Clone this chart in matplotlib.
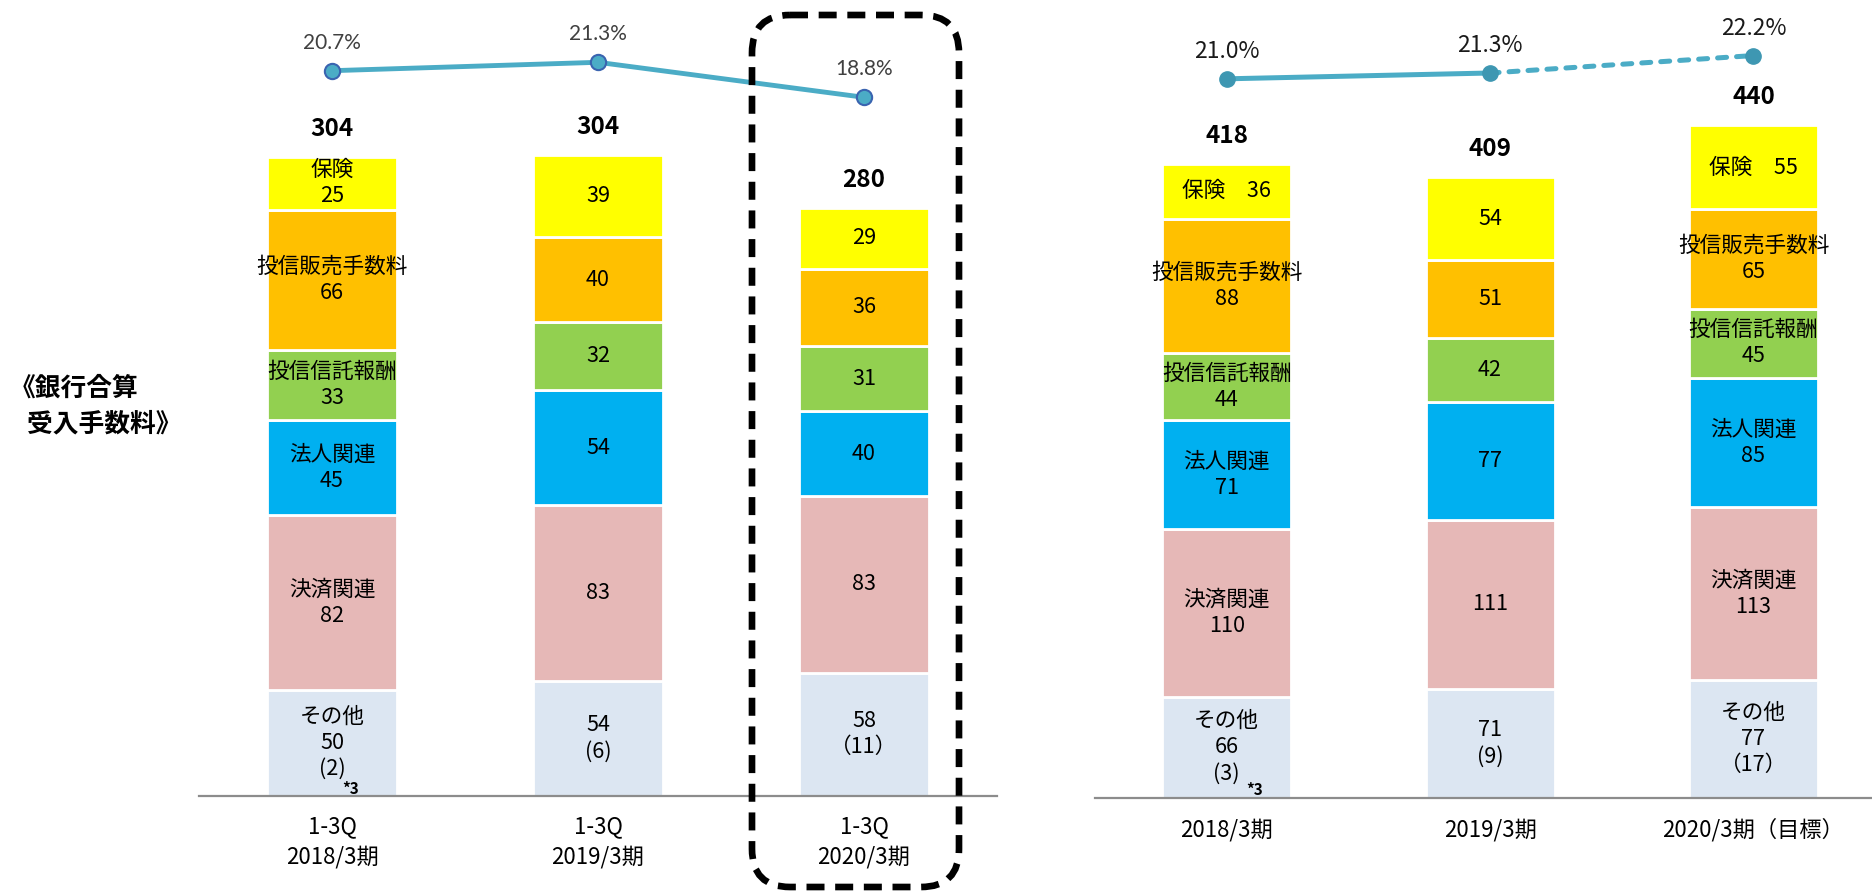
import matplotlib.pyplot as plt
from matplotlib.patches import FancyBboxPatch

plt.rcParams['font.family'] = ['Noto Sans CJK JP', 'DejaVu Sans']

# ---- data ----
seg_names = ['その他', '決済関連', '法人関連', '投信信託報酬', '投信販売手数料', '保険']
seg_colors = ['#DCE6F2', '#E6B8B7', '#00B0F0', '#92D050', '#FFC000', '#FFFF00']

cats_left = ['1-3Q\n2018/3期', '1-3Q\n2019/3期', '1-3Q\n2020/3期']
other_l = [50, 54, 58]
settle_l = [82, 83, 83]
corp_l = [45, 54, 40]
trust_fee_l = [33, 32, 31]
sales_fee_l = [66, 40, 36]
ins_l = [25, 39, 29]
total_l = [304, 304, 280]
ratio_l = [20.7, 21.3, 18.8]
other_sub_l = ['(2)', '(6)', '（11）']

cats_right = ['2018/3期', '2019/3期', '2020/3期（目標）']
other_r = [66, 71, 77]
settle_r = [110, 111, 113]
corp_r = [71, 77, 85]
trust_fee_r = [44, 42, 45]
sales_fee_r = [88, 51, 65]
ins_r = [36, 54, 55]
total_r = [418, 409, 440]
ratio_r = [21.0, 21.3, 22.2]
other_sub_r = ['(3)', '(9)', '（17）']

# ---- layout ----
W, H, DPI = 1872, 891, 100
fig = plt.figure(figsize=(W / DPI, H / DPI), dpi=DPI)
PT = 72 / DPI  # points per pixel


def px_axes(x0, x1, y_top, y_bottom):
    return fig.add_axes([x0 / W, 1 - y_bottom / H, (x1 - x0) / W, (y_bottom - y_top) / H])


def draw_panel(ax, segs, totals, subs, cats, named, inline_ins, xmax, unit_px, height_px, cat_off):
    x = list(range(len(cats)))
    ax.set_xlim(-0.5, xmax)
    ax.set_ylim(0, height_px / unit_px)
    for s in ['top', 'left', 'right']:
        ax.spines[s].set_visible(False)
    ax.spines['bottom'].set_color('#8C8C8C')
    ax.spines['bottom'].set_linewidth(1.6)
    ax.set_xticks([])
    ax.set_yticks([])
    ax.patch.set_alpha(0)

    bottom = [0] * len(x)
    for k, (name, vals, color) in enumerate(zip(seg_names, segs, seg_colors)):
        ax.bar(x, vals, 0.49, bottom=bottom, color=color, edgecolor='white', linewidth=2, zorder=2)
        for i, v in enumerate(vals):
            if k == 0:
                txt = f'{v}\n{subs[i]}'
                if named[i]:
                    txt = f'{name}\n' + txt
            elif k == 5 and named[i] and inline_ins:
                txt = f'{name}　{v}'
            elif named[i]:
                txt = f'{name}\n{v}'
            else:
                txt = str(v)
            ax.text(i, bottom[i] + v / 2, txt, ha='center', va='center', fontsize=15.6,
                    linespacing=1.25, color='black', zorder=3)
        bottom = [b + v for b, v in zip(bottom, vals)]

    for i, t in enumerate(totals):
        ax.annotate(str(t), xy=(i, bottom[i]), xytext=(0, 28 * PT), textcoords='offset points',
                    ha='center', va='center', fontsize=17.5, weight='bold')
    for i, c in enumerate(cats):
        ax.annotate(c, xy=(i, 0), xytext=(0, -cat_off * PT), textcoords='offset points',
                    ha='center', va='center', fontsize=16, linespacing=1.4, annotation_clip=False)
    return x


# left panel
axl = px_axes(199, 997, 0, 795.7)
xl = draw_panel(axl, [other_l, settle_l, corp_l, trust_fee_l, sales_fee_l, ins_l], total_l,
                other_sub_l, cats_left, [True, False, False], False, 2.5, 2.123, 795.7, 46)
axl.annotate('*3', xy=(0, 0), xytext=(19 * PT, 7 * PT), textcoords='offset points',
             ha='center', va='center', fontsize=11, weight='bold', zorder=4)

axl2 = axl.twinx()
axl2.set_ylim(21.3 - 733.4 / 14.0, 21.3 - 733.4 / 14.0 + 795.7 / 14.0)
axl2.axis('off')
axl2.plot(xl, ratio_l, '-', color='#4BACC6', lw=3.5, solid_capstyle='round', zorder=5)
axl2.plot(xl, ratio_l, 'o', ms=11, mfc='#4BACC6', mec='#3A64B0', mew=1.5, zorder=6)
for i, r in enumerate(ratio_l):
    axl2.annotate(f'{r:.1f}%', xy=(i, r), xytext=(0, 28 * PT), textcoords='offset points',
                  ha='center', va='center', fontsize=15, color='#404040', family='Lato')

# right panel
axr = px_axes(1095, 1872, 0, 797.7)
xr = draw_panel(axr, [other_r, settle_r, corp_r, trust_fee_r, sales_fee_r, ins_r], total_r,
                other_sub_r, cats_right, [True, False, True], True, 2.45, 1.528, 797.7, 32)
axr.annotate('*3', xy=(0, 0), xytext=(28 * PT, 8 * PT), textcoords='offset points',
             ha='center', va='center', fontsize=11, weight='bold', zorder=4)

axr2 = axr.twinx()
lo = 21.3 - (797.7 - 73.0) / 19.4
axr2.set_ylim(lo, lo + 797.7 / 19.4)
axr2.axis('off')
axr2.plot(xr[:2], ratio_r[:2], '-', color='#4BACC6', lw=3.6, solid_capstyle='round', zorder=5)
axr2.plot(xr[1:], ratio_r[1:], color='#4BACC6', lw=3.6, ls=(0, (1.8, 2.0)),
          dash_capstyle='round', zorder=5)
axr2.plot(xr, ratio_r, 'o', ms=11, mfc='#3E97B2', mec='#3E97B2', zorder=6)
for i, r in enumerate(ratio_r):
    axr2.annotate(f'{r:.1f}%', xy=(i, r), xytext=(0, 27 * PT), textcoords='offset points',
                  ha='center', va='center', fontsize=16.5, color='#1A1A1A')

# overlay in pixel units: dashed highlight box and side title
ov = fig.add_axes([0, 0, 1, 1])
ov.set_xlim(0, W)
ov.set_ylim(H, 0)
ov.axis('off')
ov.add_patch(FancyBboxPatch((752, 15), 207, 872, boxstyle='round,pad=0,rounding_size=38',
                            fill=False, ec='black', lw=4.8, ls=(0, (2.7, 1.6))))
ov.text(10, 388, '《銀行合算', fontsize=18.5, weight='bold', ha='left', va='center')
ov.text(27, 424, '受入手数料》', fontsize=18.5, weight='bold', ha='left', va='center')

fig.savefig('out.png', dpi=DPI)
